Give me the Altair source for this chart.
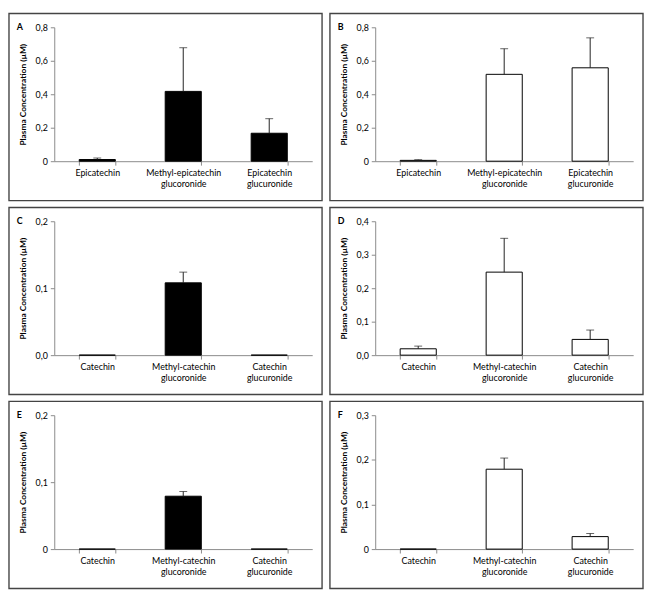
import altair as alt
import pandas as pd

# ---- data ----
cats_epi = ["Epicatechin", "Methyl-epicatechin glucoronide", "Epicatechin glucuronide"]
cats_cat = ["Catechin", "Methyl-catechin glucoronide", "Catechin glucuronide"]

mean_A = [0.010, 0.417, 0.167]
err_A = [0.009, 0.261, 0.087]
mean_B = [0.005, 0.519, 0.558]
err_B = [0.004, 0.153, 0.179]
mean_C = [0.0, 0.108, 0.0]
err_C = [0.0, 0.016, 0.0]
mean_D = [0.019, 0.248, 0.047]
err_D = [0.008, 0.101, 0.028]
mean_E = [0.0, 0.079, 0.0]
err_E = [0.0, 0.007, 0.0]
mean_F = [0.0, 0.179, 0.028]
err_F = [0.0, 0.025, 0.007]

ticks_08 = [0, 0.2, 0.4, 0.6, 0.8]
ticks_02 = [0, 0.1, 0.2]
ticks_04 = [0, 0.1, 0.2, 0.3, 0.4]
ticks_03 = [0, 0.1, 0.2, 0.3]

W, H = 262, 136
FONT = "Lato"
AXC = "#8a8a8a"


def panel(cats, means, errs, fill, ticks, zero_label, letter):
    df = pd.DataFrame({"cat": cats, "mean": means, "err": errs})
    df["upper"] = df["mean"] + df["err"]
    dom = [0, ticks[-1]]
    xaxis = alt.Axis(
        labelExpr="split(datum.label, ' ')", labelAngle=0, tickBand="extent",
        labelFont=FONT, labelFontSize=9, labelColor="black", labelPadding=4,
        labelLineHeight=11, domainColor=AXC, tickColor=AXC, tickSize=4,
        labelOverlap=False,
    )
    xscale = alt.Scale(paddingInner=0.58, paddingOuter=0.29)
    lab = (
        f"datum.value == 0 ? '{zero_label}' : replace(format(datum.value, '.1f'), '.', ',')"
    )
    yaxis = alt.Axis(
        values=ticks, labelExpr=lab, title="Plasma Concentration (µM)",
        titleFont=FONT, titleFontSize=8.5, titleFontWeight="bold", titleColor="black",
        titlePadding=8, labelFont=FONT, labelFontSize=9, labelColor="black",
        grid=False, domainColor=AXC, tickColor=AXC, tickSize=4, labelPadding=3,
        labelOverlap=False, tickCount=len(ticks),
    )
    yscale = alt.Scale(domain=dom, nice=False)
    x = alt.X("cat:N", sort=cats, title=None, scale=xscale, axis=xaxis)
    base = alt.Chart(df)
    bars = base.mark_bar(fill=fill, stroke="black", strokeWidth=1).encode(
        x=x, y=alt.Y("mean:Q", scale=yscale, axis=yaxis)
    )
    eb = base.transform_filter("datum.err > 0")
    rule = eb.mark_rule(color="#222", strokeWidth=1).encode(
        x=x, y=alt.Y("mean:Q", scale=yscale, axis=yaxis), y2="upper:Q"
    )
    cap = eb.mark_tick(color="#222", thickness=1, size=8).encode(
        x=x, y=alt.Y("upper:Q", scale=yscale, axis=yaxis)
    )
    one = pd.DataFrame({"k": [0]})
    box = alt.Chart(one).mark_rect(fill="transparent", stroke="#444", strokeWidth=1.4).encode(
        x=alt.value(-46), x2=alt.value(W + 10), y=alt.value(-14), y2=alt.value(H + 40)
    )
    let = alt.Chart(one).mark_text(
        text=letter, font=FONT, fontSize=9, fontWeight="bold", align="left", baseline="middle"
    ).encode(x=alt.value(-38), y=alt.value(0))
    return alt.layer(bars, rule, cap, box, let).properties(width=W, height=H)


pA = panel(cats_epi, mean_A, err_A, "black", ticks_08, "0", "A")
pB = panel(cats_epi, mean_B, err_B, "white", ticks_08, "0", "B")
pC = panel(cats_cat, mean_C, err_C, "black", ticks_02, "0,0", "C")
pD = panel(cats_cat, mean_D, err_D, "white", ticks_04, "0,0", "D")
pE = panel(cats_cat, mean_E, err_E, "black", ticks_02, "0", "E")
pF = panel(cats_cat, mean_F, err_F, "white", ticks_03, "0", "F")

chart = (
    alt.vconcat(
        alt.hconcat(pA, pB, spacing=6),
        alt.hconcat(pC, pD, spacing=6),
        alt.hconcat(pE, pF, spacing=6),
        spacing=5,
    )
    .properties(padding=0, background="white")
    .configure_view(strokeWidth=0, stroke="transparent")
)

chart.save("out.html", embed_options={"renderer": "svg", "actions": False})
